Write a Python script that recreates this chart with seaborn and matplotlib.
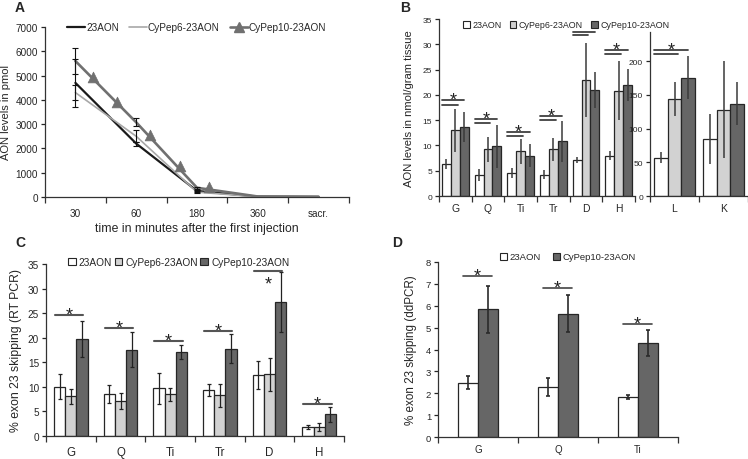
import numpy as np
import pandas as pd
import matplotlib
matplotlib.use("Agg")
import matplotlib.pyplot as plt
import seaborn as sns
from matplotlib.lines import Line2D
from matplotlib.patches import Patch

# ---------------- data ----------------
series = ["23AON", "CyPep6-23AON", "CyPep10-23AON"]

# Panel A
times = ["30", "60", "180", "360", "sacr."]
a_23aon = [4700, 2200, 250, 15, 5]
a_cp6 = [4300, 2500, 200, 10, 5]
a_cp10 = [5600, 3075, 380, 20, 10]
a_23aon_err = [1000, 80, 40, 0, 0]
a_cp6_err = [300, 250, 40, 0, 0]
a_cp10_err = [525, 165, 40, 0, 0]
a_cp10_mark_x = [0.29, 0.69, 1.23, 1.72, 2.20]
a_cp10_mark_y = [4930, 3900, 2565, 1290, 400]

# Panel B (muscles)
b_tissues = ["G", "Q", "Ti", "Tr", "D", "H"]
b_23aon = [6.3, 4.2, 4.5, 4.2, 7.1, 8.0]
b_cp6 = [13.0, 9.2, 8.8, 9.2, 23.0, 20.8]
b_cp10 = [13.6, 9.8, 8.0, 10.8, 21.0, 22.0]
b_23aon_err = [1.0, 1.2, 1.0, 0.9, 0.6, 0.8]
b_cp6_err = [4.3, 2.5, 2.4, 2.3, 7.3, 5.8]
b_cp10_err = [3.0, 4.3, 2.3, 4.0, 3.5, 3.2]
b_sig_hi = [18.9, 15.3, 12.7, 15.8, 32.4, 28.9]
b_sig_lo = [18.0, 14.4, 11.9, 15.0, 31.8, 28.1]
b_star = [True, True, True, True, False, True]
# Panel B (organs)
b2_organs = ["L", "K"]
b2_23aon = [57, 85]
b2_cp6 = [144, 128]
b2_cp10 = [175, 137]
b2_23aon_err = [8, 37]
b2_cp6_err = [25, 72]
b2_cp10_err = [32, 32]
b2_sig_hi = [216, None]
b2_sig_lo = [211, None]

# Panel C
c_tissues = ["G", "Q", "Ti", "Tr", "D", "H"]
c_23aon = [10.0, 8.5, 9.7, 9.4, 12.4, 1.8]
c_cp6 = [8.1, 7.1, 8.5, 8.25, 12.55, 1.9]
c_cp10 = [19.8, 17.6, 17.1, 17.8, 27.3, 4.4]
c_23aon_err = [2.55, 1.8, 3.1, 1.2, 2.9, 0.45]
c_cp6_err = [1.5, 1.6, 1.3, 2.35, 3.3, 0.8]
c_cp10_err = [3.7, 3.5, 1.45, 2.95, 6.1, 1.55]
c_sig = [24.6, 22.0, 19.4, 21.3, 33.6, 6.6]
c_star_above = [True, True, True, True, False, True]

# Panel D
d_tissues = ["G", "Q", "Ti"]
d_series = ["23AON", "CyPep10-23AON"]
d_23aon = [2.48, 2.29, 1.84]
d_cp10 = [5.84, 5.64, 4.31]
d_23aon_err = [0.29, 0.43, 0.1]
d_cp10_err = [1.07, 0.86, 0.59]
d_sig = [7.35, 6.81, 5.15]

# ---------------- style ----------------
sns.set_style("ticks")
plt.rcParams['font.family'] = ['Liberation Sans', 'DejaVu Sans']
plt.rcParams['axes.linewidth'] = 0.9
plt.rcParams['axes.edgecolor'] = '#333333'

col_white = "#ffffff"
col_light = "#d2d2d2"
col_dark = "#666666"
edge = "#262626"
palette3 = {series[0]: col_white, series[1]: col_light, series[2]: col_dark}

W, H = 748, 460
fig = plt.figure(figsize=(W / 100, H / 100), dpi=100)


def px_axes(x0, x1, ytop, ybot):
    return fig.add_axes([x0 / W, 1 - ybot / H, (x1 - x0) / W, (ybot - ytop) / H])


def cat_ticks(ax, labels, size, pad=5):
    n = len(labels)
    ax.set_xlim(-0.5, n - 0.5)
    ax.set_xticks(range(n))
    ax.set_xticklabels(labels, fontsize=size)
    ax.set_xticks(np.arange(-0.5, n, 1.0), minor=True)
    ax.tick_params(axis="x", which="major", length=0, pad=pad)
    ax.tick_params(axis="x", which="minor", length=4, width=0.9, color="#333333")
    ax.set_xlabel("")


def star(ax, x, y, above=True):
    off = -3.2 if above else -12.4
    ax.annotate("*", xy=(x, y), xytext=(0, off), textcoords="offset points",
                ha="center", va="baseline", fontsize=13, color="#222222")


def bars(ax, cats, names, vals, errs, width, pal, ecol, elw, capsize):
    df = pd.DataFrame({
        "cat": np.repeat([cats], len(names), axis=0).ravel(),
        "grp": np.repeat(names, len(cats)),
        "val": np.concatenate(vals),
    })
    sns.barplot(data=df, x="cat", y="val", hue="grp", order=cats, hue_order=names,
                palette=pal, edgecolor=edge, linewidth=0.9, width=width,
                errorbar=None, legend=False, ax=ax)
    for cont, e in zip(ax.containers, errs):
        xs = [b.get_x() + b.get_width() / 2 for b in cont]
        ys = [b.get_height() for b in cont]
        ax.errorbar(xs, ys, yerr=e, fmt="none", ecolor=ecol, elinewidth=elw,
                    capsize=capsize, capthick=elw, zorder=5)
    return ax.containers


def legend_sq(ax, names, cols, x_px, y_px, size, colsp):
    handles = [Patch(facecolor=c, edgecolor=edge, linewidth=0.8) for c in cols]
    ax.legend(handles, names, loc="center left", bbox_to_anchor=(x_px / W, 1 - y_px / H),
              bbox_transform=fig.transFigure, ncol=len(names), frameon=False,
              borderpad=0, borderaxespad=0, handlelength=0.75, handleheight=0.75,
              handletextpad=0.3, columnspacing=colsp, fontsize=size)


# ---------------- Panel A ----------------
axA = px_axes(45, 349, 28, 198)
xi = np.arange(len(times))
sns.lineplot(x=xi, y=a_23aon, ax=axA, color="#1a1a1a", lw=1.6, zorder=3)
sns.lineplot(x=xi, y=a_cp6, ax=axA, color="#a8a8a8", lw=1.2, zorder=3)
sns.lineplot(x=xi, y=a_cp10, ax=axA, color="#707070", lw=1.9, zorder=3)
sns.scatterplot(x=a_cp10_mark_x, y=a_cp10_mark_y, ax=axA, marker="^", s=60,
                color="#707070", edgecolor="#707070", linewidth=0.5, zorder=4)
for v, e in [(a_23aon, a_23aon_err), (a_cp6, a_cp6_err), (a_cp10, a_cp10_err)]:
    axA.errorbar(xi[:3], v[:3], yerr=e[:3], fmt="none", ecolor="#111111",
                 elinewidth=0.8, capsize=2, capthick=0.8, zorder=5)
axA.set_ylim(0, 7000)
axA.set_yticks(range(0, 7001, 1000))
axA.tick_params(axis="y", labelsize=7.2, length=3, width=0.9, pad=2)
cat_ticks(axA, times, 7.2, pad=8)
axA.set_xlabel("time in minutes after the first injection", fontsize=8.8, labelpad=3)
axA.set_ylabel("AON levels in pmol", fontsize=8, labelpad=3)
sns.despine(ax=axA)
hA = [Line2D([], [], color="#1a1a1a", lw=1.6),
      Line2D([], [], color="#a8a8a8", lw=1.2),
      Line2D([], [], color="#707070", lw=1.9, marker="^", markersize=7.5)]
axA.legend(hA, series, loc="center left", bbox_to_anchor=(67 / W, 1 - 28 / H),
           bbox_transform=fig.transFigure, ncol=3, frameon=False, borderpad=0,
           borderaxespad=0, handlelength=1.8, handletextpad=0.1, columnspacing=1.0,
           fontsize=7.2)
fig.text(15 / W, 1 - 8 / H, "A", fontsize=10, fontweight="bold", va="center")

# ---------------- Panel B ----------------
axB = px_axes(439, 635, 20, 197)
cont = bars(axB, b_tissues, series, [b_23aon, b_cp6, b_cp10],
            [b_23aon_err, b_cp6_err, b_cp10_err], 0.82, palette3, "#3a3a3a", 1.1, 0)
axB.set_ylim(0, 35)
axB.set_yticks(range(0, 36, 5))
axB.tick_params(axis="y", labelsize=6, length=3, width=0.9, pad=2)
cat_ticks(axB, b_tissues, 7.5)
axB.set_ylabel("AON levels in nmol/gram tissue", fontsize=8.1, labelpad=6)
sns.despine(ax=axB)
for j in range(len(b_tissues)):
    b0, b1, b2 = cont[0][j], cont[1][j], cont[2][j]
    xl = b0.get_x()
    xh = b2.get_x() + b2.get_width() / 2
    xm = b1.get_x() + b1.get_width() * 0.75
    axB.plot([xl, xh], [b_sig_hi[j]] * 2, color="#404040", lw=1.3, zorder=6)
    axB.plot([xl, xm], [b_sig_lo[j]] * 2, color="#404040", lw=1.3, zorder=6)
    if b_star[j]:
        star(axB, (xl + xh) / 2, b_sig_hi[j])

axB2 = px_axes(650, 748, 33, 197)
cont2 = bars(axB2, b2_organs, series, [b2_23aon, b2_cp6, b2_cp10],
             [b2_23aon_err, b2_cp6_err, b2_cp10_err], 0.85, palette3, "#3a3a3a", 1.1, 0)
axB2.set_ylim(0, 243)
axB2.set_yticks(range(0, 201, 50))
axB2.tick_params(axis="y", labelsize=6, length=3, width=0.9, pad=2)
cat_ticks(axB2, b2_organs, 7.5)
axB2.set_ylabel("")
sns.despine(ax=axB2)
for j in range(len(b2_organs)):
    if b2_sig_hi[j] is None:
        continue
    b0, b1, b2 = cont2[0][j], cont2[1][j], cont2[2][j]
    xl = b0.get_x()
    xh = b2.get_x() + b2.get_width() / 2
    xm = b1.get_x() + b1.get_width() * 0.75
    axB2.plot([xl, xh], [b2_sig_hi[j]] * 2, color="#404040", lw=1.3, zorder=6)
    axB2.plot([xl, xm], [b2_sig_lo[j]] * 2, color="#404040", lw=1.3, zorder=6)
    star(axB2, (xl + xh) / 2, b2_sig_hi[j])
legend_sq(axB, series, [col_white, col_light, col_dark], 463, 26, 6.4, 0.9)
fig.text(400 / W, 1 - 8 / H, "B", fontsize=10, fontweight="bold", va="center")

# ---------------- Panel C ----------------
axC = px_axes(46, 344, 265, 437)
contC = bars(axC, c_tissues, series, [c_23aon, c_cp6, c_cp10],
             [c_23aon_err, c_cp6_err, c_cp10_err], 0.68, palette3, "#222222", 0.9, 1.6)
axC.set_ylim(0, 35)
axC.set_yticks(range(0, 36, 5))
axC.tick_params(axis="y", labelsize=7.2, length=3, width=0.9, pad=2)
cat_ticks(axC, c_tissues, 8.3, pad=7)
axC.set_ylabel("% exon 23 skipping (RT PCR)", fontsize=8.8, labelpad=4)
sns.despine(ax=axC)
for j in range(len(c_tissues)):
    b0, b2 = contC[0][j], contC[2][j]
    xl = b0.get_x() + b0.get_width() * 0.1
    xh = b2.get_x() + b2.get_width() * 0.6
    axC.plot([xl, xh], [c_sig[j]] * 2, color="#555555", lw=1.5, zorder=6)
    star(axC, (xl + xh) / 2, c_sig[j], above=c_star_above[j])
legend_sq(axC, series, [col_white, col_light, col_dark], 68, 263, 7.3, 0.25)
fig.text(15 / W, 1 - 243 / H, "C", fontsize=10, fontweight="bold", va="center")

# ---------------- Panel D ----------------
axD = px_axes(438, 678, 263, 438)
palette2 = {d_series[0]: col_white, d_series[1]: col_dark}
contD = bars(axD, d_tissues, d_series, [d_23aon, d_cp10],
             [d_23aon_err, d_cp10_err], 0.5, palette2, "#2a2a2a", 1.2, 1.6)
axD.set_ylim(0, 8)
axD.set_yticks(range(0, 9))
axD.tick_params(axis="y", labelsize=6.8, length=3, width=0.9, pad=2)
cat_ticks(axD, d_tissues, 7)
axD.set_ylabel("% exon 23 skipping (ddPCR)", fontsize=8.4, labelpad=6)
sns.despine(ax=axD)
for j in range(len(d_tissues)):
    b0, b1 = contD[0][j], contD[1][j]
    xl = b0.get_x() + b0.get_width() * 0.25
    xh = b1.get_x() + b1.get_width() * 0.7
    axD.plot([xl, xh], [d_sig[j]] * 2, color="#444444", lw=1.2, zorder=6)
    star(axD, (xl + xh) / 2, d_sig[j])
legend_sq(axD, d_series, [col_white, col_dark], 500, 258, 6.8, 1.2)
fig.text(392 / W, 1 - 243 / H, "D", fontsize=10, fontweight="bold", va="center")

fig.savefig("out.png", dpi=100)
